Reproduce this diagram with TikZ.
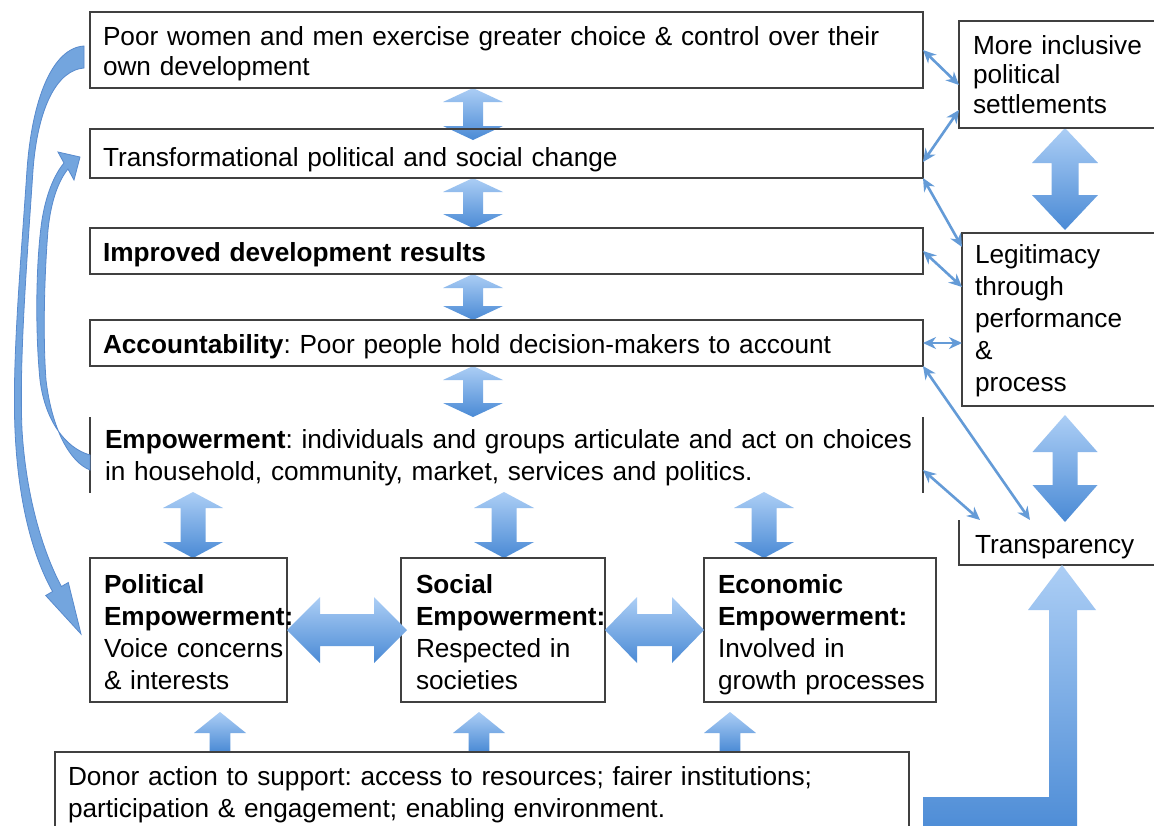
\documentclass[tikz,border=0pt]{standalone}
\usepackage{fontspec}
\setmainfont{Liberation Sans}
\usetikzlibrary{calc,arrows.meta,backgrounds}
\hyphenpenalty=10000
\exhyphenpenalty=10000
\frenchspacing
\definecolor{boxgray}{RGB}{64,64,64}
\definecolor{arrL}{RGB}{172,206,245}
\definecolor{arrD}{RGB}{74,138,213}
\definecolor{connc}{RGB}{100,155,215}
\definecolor{curvf}{RGB}{115,165,222}
\definecolor{curvd}{RGB}{88,138,205}
\newcommand\fsA{\fontsize{26.2}{30}\selectfont}
\newcommand\fsB{\fontsize{26.2}{32}\selectfont}
\newcommand\fsC{\fontsize{26.2}{29.5}\selectfont}
\newcommand\one[1]{\mbox{#1}}
\newcommand\vdarr[5]{\shade[blockarr] (#1) -- ($(#1)+(#3,#5)$) -- ($(#1)+(#4,#5)$) -- ($(#2)+(#4,-#5)$) -- ($(#2)+(#3,-#5)$) -- (#2) -- ($(#2)+(-#3,-#5)$) -- ($(#2)+(-#4,-#5)$) -- ($(#1)+(-#4,#5)$) -- ($(#1)+(-#3,#5)$) -- cycle;}
\newcommand\hdarr[5]{\shade[blockarr] (#1) -- ($(#1)+(#5,-#3)$) -- ($(#1)+(#5,-#4)$) -- ($(#2)+(-#5,-#4)$) -- ($(#2)+(-#5,-#3)$) -- (#2) -- ($(#2)+(-#5,#3)$) -- ($(#2)+(-#5,#4)$) -- ($(#1)+(#5,#4)$) -- ($(#1)+(#5,#3)$) -- cycle;}
\newcommand\uparr[5]{\shade[blockarr] (#1) -- ($(#1)+(#3,#5)$) -- ($(#1)+(#4,#5)$) -- ($(#2)+(#4,0)$) -- ($(#2)+(-#4,0)$) -- ($(#1)+(-#4,#5)$) -- ($(#1)+(-#3,#5)$) -- cycle;}
\tikzset{
  box/.style={draw=boxgray, line width=2.4, inner xsep=13, inner ysep=0, outer sep=0, align=left, anchor=north west, font=\fsB},
  openbox/.style={box, draw=none},
  border/.style={draw=boxgray, line width=2.4},
  blockarr/.style={top color=arrL, bottom color=arrD, draw=none},
  conn/.style={draw=connc, line width=2.6, {Stealth[length=13pt,width=12pt]}-{Stealth[length=13pt,width=12pt]}},
  curvearr/.style={fill=curvf, draw=curvd, line width=0.8},
}
\begin{document}
\begin{tikzpicture}[x=1pt,y=-1pt]
\useasboundingbox (0,0) rectangle (1154,825);
\begin{pgfonlayer}{background}
\fill[white] (0,0) rectangle (1154,825);
\end{pgfonlayer}
\clip (0,0) rectangle (1154,825);

% main column
\node[box, font=\fsA, text width=807, text height=33, text depth=43] (b1) at (90,12)
  {\one{Poor women and men exercise greater choice \& control over their}\\\one{own development}};
\node[box, text width=807, text height=37, text depth=12] (b2) at (90,129)
  {\one{Transformational political and social change}};
\node[box, text width=807, text height=33, text depth=13] (b3) at (90,228)
  {\one{\textbf{Improved development results}}};
\node[box, text width=807, text height=33, text depth=13] (b4) at (90,320)
  {\one{\textbf{Accountability}: Poor people hold decision-makers to account}};
\node[openbox, inner xsep=15, text width=803, text height=31, text depth=45] (b5) at (90,417)
  {\one{\textbf{Empowerment}: individuals and groups articulate and act on choices}\\\one{in household, community, market, services and politics.}};

% right column
\node[box, font=\fsC, inner xsep=14, text width=178, text height=33, text depth=74] (r1) at (959,21)
  {\one{More inclusive}\\political\\settlements};
\node[box, text width=177, text height=30, text depth=143] (r2) at (962,233)
  {Legitimacy\\through\\performance\\\&\\process};
\node[openbox, inner xsep=16, text width=174, text height=33, text depth=12] (r3) at (959,520)
  {Transparency};

% bottom row
\node[box, inner xsep=14, text width=169, text height=35, text depth=109] (pol) at (90,558)
  {\textbf{Political}\\\textbf{Empowerment:}\\\one{Voice concerns}\\\one{\& interests}};
\node[box, inner xsep=15, text width=174, text height=35, text depth=109] (soc) at (401,558)
  {\textbf{Social}\\\textbf{Empowerment:}\\\one{Respected in}\\societies};
\node[box, inner xsep=14, text width=204, text height=35, text depth=109] (eco) at (704,558)
  {\textbf{Economic}\\\textbf{Empowerment:}\\\one{Involved in}\\\one{growth processes}};
\node[box, text width=828, text height=33, text depth=98] (donor) at (55,752)
  {\one{Donor action to support: access to resources; fairer institutions;}\\\one{participation \& engagement; enabling environment.}};

% partial borders
\draw[border] (b5.north west) -- (b5.south west);
\draw[border] (b5.north east) -- (b5.south east);
\draw[border] (r3.north west) -- (r3.south west) -- ($(r3.south east)+(10,0)$);

% column coordinates
\coordinate (cm) at (473,0);
\coordinate (ca) at (193,0);
\coordinate (cb) at (504,0);
\coordinate (cc) at (764,0);
\coordinate (ua) at (220,0);
\coordinate (ub) at (479,0);
\coordinate (uc) at (730,0);
\coordinate (cr) at (1065,0);

\coordinate (a12t) at (cm |- b1.south);
\coordinate (a12b) at ($(cm |- b2.north)+(0,11)$);
\coordinate (a23t) at (cm |- b2.south);
\coordinate (a23b) at (cm |- b3.north);
\coordinate (a34t) at (cm |- b3.south);
\coordinate (a34b) at (cm |- b4.north);
\coordinate (a45t) at (cm |- b4.south);
\coordinate (a45b) at (cm |- b5.north);
\coordinate (ept) at ($(ca |- b5.south)+(0,-1)$);
\coordinate (epb) at (ca |- pol.north);
\coordinate (est) at ($(cb |- b5.south)+(0,-1)$);
\coordinate (esb) at (cb |- soc.north);
\coordinate (eet) at ($(cc |- b5.south)+(0,-1)$);
\coordinate (eeb) at (cc |- eco.north);
\coordinate (dpt) at ($(ua |- pol.south)+(0,10)$);
\coordinate (dpb) at (ua |- donor.north);
\coordinate (dst) at ($(ub |- soc.south)+(0,10)$);
\coordinate (dsb) at (ub |- donor.north);
\coordinate (det) at ($(uc |- eco.south)+(0,10)$);
\coordinate (deb) at (uc |- donor.north);
\coordinate (rat) at (cr |- r1.south);
\coordinate (rab) at ($(cr |- r2.north)+(0,-3)$);
\coordinate (rbt) at ($(cr |- r2.south)+(0,9)$);
\coordinate (rbb) at ($(cr |- r3.north)+(0,2)$);
\coordinate (ltip) at ($(r3.south west)+(103,0)$);

\begin{pgfonlayer}{background}
\vdarr{a12t}{a12b}{30}{10}{14}
\vdarr{a23t}{a23b}{30}{10}{14}
\vdarr{a34t}{a34b}{30}{10}{14}
\vdarr{a45t}{a45b}{30}{10}{14}
\vdarr{ept}{epb}{30}{12.5}{16}
\vdarr{est}{esb}{30}{12.5}{16}
\vdarr{eet}{eeb}{30}{12.5}{16}
\uparr{dpt}{dpb}{26}{10.3}{21}
\uparr{dst}{dsb}{26}{10.3}{21}
\uparr{det}{deb}{26}{10.3}{21}
\vdarr{rat}{rab}{33}{13.5}{35}
\vdarr{rbt}{rbb}{32.5}{12.5}{37}
\end{pgfonlayer}

% horizontal double arrows
\hdarr{pol.east}{$(soc.west)+(6,0)$}{33}{16}{33}
\hdarr{soc.east}{eco.west}{33}{16}{32}

% L-shaped arrow to Transparency
\shade[blockarr] (ltip) -- ($(ltip)+(34,45)$) -- ($(ltip)+(15,45)$) -- ($(ltip)+(15,275)$)
  -- ($(ltip)+(-139,275)$) -- ($(ltip)+(-139,232)$) -- ($(ltip)+(-13,232)$)
  -- ($(ltip)+(-13,45)$) -- ($(ltip)+(-34,45)$) -- cycle;

% thin connectors
\draw[conn] (b1.east) -- ($(r1.north west)+(0,64)$);
\draw[conn] ($(r1.north west)+(0,89)$) -- ($(b2.north east)+(0,33)$);
\draw[conn] (b2.south east) -- ($(r2.north west)+(0,14)$);
\draw[conn] (b3.east) -- ($(r2.north west)+(0,54)$);
\draw[conn] (b4.east) -- (b4.east -| r2.west);
\draw[conn] (b4.south east) -- ($(r3.north west)+(71,0)$);
\draw[conn] ($(b5.north east)+(0,53)$) -- ($(r3.north west)+(21,0)$);

% curved arrows on the left
\filldraw[curvearr] (84,46) .. controls (52,48) and (32,100) .. (27,170)
  .. controls (21,260) and (12,360) .. (15,430)
  .. controls (18,500) and (32,555) .. (52.6,591.5)
  -- (45.7,595.5) -- (81,634) -- (68.3,582.5) -- (61.4,586.5)
  .. controls (42,550) and (26,495) .. (22,430)
  .. controls (19,360) and (27,260) .. (33,170)
  .. controls (38,105) and (58,70) .. (84,68) -- cycle;
\filldraw[curvearr] (90,455) .. controls (65,448) and (45,420) .. (40,380)
  .. controls (35,330) and (36,260) .. (42,220)
  .. controls (46,195) and (54,175) .. (64,163)
  -- (58,152) -- (80,157) -- (74,180) -- (68,169)
  .. controls (59,180) and (51,200) .. (48,230)
  .. controls (44,280) and (43,340) .. (46,380)
  .. controls (52,430) and (70,462) .. (90,470) -- cycle;
\end{tikzpicture}
\end{document}
